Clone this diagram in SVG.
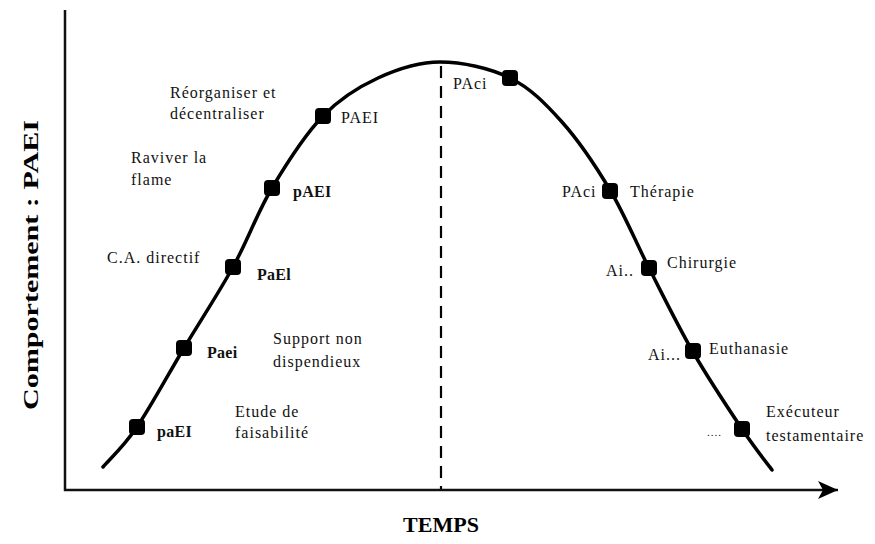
<svg xmlns="http://www.w3.org/2000/svg" width="875" height="544" viewBox="0 0 875 544">
<style>
.lbl{font-family:"Liberation Serif","Times New Roman",serif;font-size:16px;letter-spacing:1px;fill:#111}
.b{font-weight:bold;letter-spacing:0.3px}
.ax{stroke:#111;stroke-width:2.5;fill:none}
.curve{stroke:#000;stroke-width:3.5;fill:none;stroke-linejoin:round;stroke-linecap:round}
.dash{stroke:#000;stroke-width:2.2;stroke-dasharray:12 8;fill:none}
.pt{fill:#000}
.title{font-family:"Liberation Serif","Times New Roman",serif;font-weight:bold;font-size:22px;fill:#000}
</style>
<defs>
<marker id="arr" markerUnits="userSpaceOnUse" markerWidth="22" markerHeight="20" refX="20" refY="10" orient="auto">
<polygon points="0,1 20,10 0,19 5,10" fill="#000"/>
</marker>
</defs>
<rect width="875" height="544" fill="#fff"/>
<g id="axes">
<line class="ax" x1="65" y1="10" x2="65" y2="491"/>
<line class="ax" x1="64" y1="490" x2="838" y2="490" marker-end="url(#arr)"/>
</g>
<g id="connectors">
<line class="dash" x1="441" y1="66" x2="441" y2="489"/>
<path class="curve" d="M103,467 C108.7,460.3 123.5,446.8 137,427 C150.5,407.2 168,374.7 184,348 C200,321.3 218.3,293.7 233,267 C247.7,240.3 257,213.2 272,188 C287,162.8 305.3,134.3 323,116 C340.7,97.7 358.5,87 378,78 C397.5,69 418,62 440,62 C462,62 489.7,68 510,78 C530.3,88 545.3,103.3 562,122 C578.7,140.7 595.5,165.7 610,190 C624.5,214.3 635.2,241 649,268 C662.8,295 677.5,325.2 693,352 C708.5,378.8 728.8,409.3 742,429 C755.2,448.7 767,463.2 772,470"/>
</g>
<g id="n-paEI"><rect class="pt" x="129" y="419" width="16" height="16" rx="4"/><text class="lbl b" x="157" y="437">paEI</text></g>
<g id="n-Paei"><rect class="pt" x="176" y="340" width="16" height="16" rx="4"/><text class="lbl b" x="207" y="358">Paei</text></g>
<g id="n-PaEl"><rect class="pt" x="225" y="259" width="16" height="16" rx="4"/><text class="lbl b" x="257" y="280">PaEl</text></g>
<g id="n-pAEI"><rect class="pt" x="264" y="180" width="16" height="16" rx="4"/><text class="lbl b" x="293" y="197">pAEI</text></g>
<g id="n-PAEI"><rect class="pt" x="315" y="108" width="16" height="16" rx="4"/><text class="lbl" x="341" y="123">PAEI</text></g>
<g id="n-PAci1"><rect class="pt" x="502" y="70" width="16" height="16" rx="4"/><text class="lbl" x="453" y="89">PAci</text></g>
<g id="n-therapie"><rect class="pt" x="602" y="183" width="16" height="16" rx="4"/><text class="lbl" x="562" y="197">PAci</text><text class="lbl" x="630" y="197">Thérapie</text></g>
<g id="n-chirurgie"><rect class="pt" x="641" y="260" width="16" height="16" rx="4"/><text class="lbl" x="606" y="276">Ai..</text><text class="lbl" x="667" y="268">Chirurgie</text></g>
<g id="n-euthanasie"><rect class="pt" x="685" y="343" width="16" height="16" rx="4"/><text class="lbl" x="648" y="360">Ai...</text><text class="lbl" x="709" y="354">Euthanasie</text></g>
<g id="n-executeur"><rect class="pt" x="734" y="421" width="16" height="16" rx="4"/><text class="lbl" x="707" y="436" style="font-size:11px">....</text><text class="lbl" x="766" y="417">Exécuteur</text><text class="lbl" x="766" y="441">testamentaire</text></g>
<g id="annotations">
<text class="lbl" x="170" y="98">Réorganiser et</text>
<text class="lbl" x="170" y="119">décentraliser</text>
<text class="lbl" x="131" y="163">Raviver la</text>
<text class="lbl" x="131" y="185">flame</text>
<text class="lbl" x="107" y="263">C.A. directif</text>
<text class="lbl" x="273" y="344">Support non</text>
<text class="lbl" x="273" y="367">dispendieux</text>
<text class="lbl" x="235" y="417">Etude de</text>
<text class="lbl" x="235" y="438">faisabilité</text>
</g>
<g id="axis-titles">
<text class="title" x="441" y="532" text-anchor="middle">TEMPS</text>
<text class="title" transform="translate(38,265) rotate(-90)" text-anchor="middle" textLength="290" lengthAdjust="spacingAndGlyphs">Comportement : PAEI</text>
</g>
</svg>
